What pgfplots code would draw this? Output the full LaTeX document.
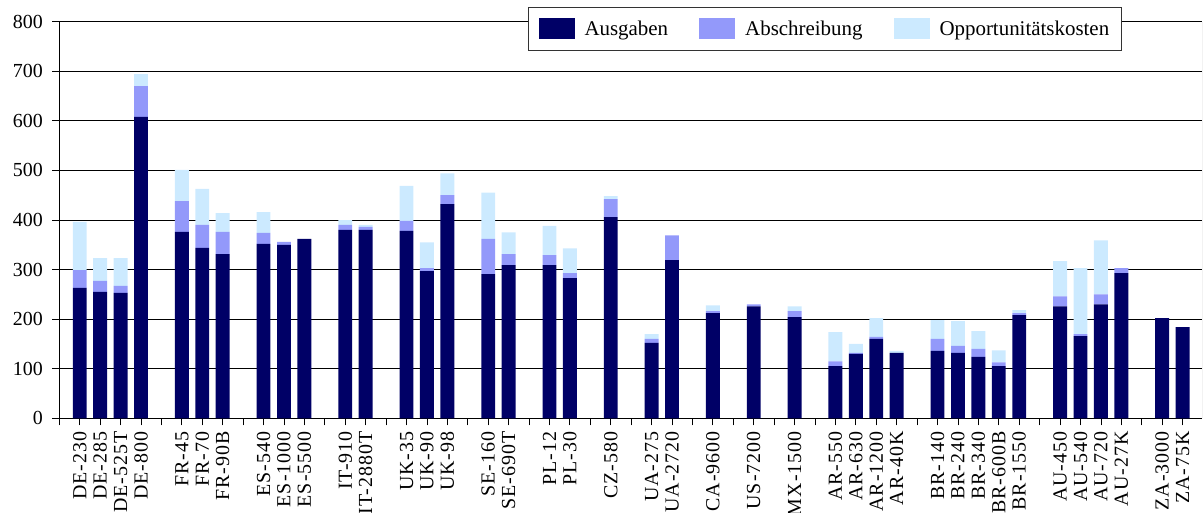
\documentclass[border=0pt]{standalone}
\usepackage{fontspec}
\setmainfont{Liberation Serif}
\newfontfamily\xlab[LetterSpace=5]{Liberation Serif}
\usepackage{pgfplots}
\usepackage{pgfplotstable}
\pgfplotsset{compat=1.18}
\definecolor{ausg}{RGB}{0,0,102}
\definecolor{absch}{RGB}{147,153,250}
\definecolor{oppk}{RGB}{204,234,255}

\pgfplotstableread{
x  a   b   c
1  263 36  97
2  255 22  46
3  253 14  56
4  608 62  24
6  376 62  63
7  344 46  73
8  331 45  38
10 352 22  42
11 350 6   0
12 362 0   0
14 380 10  10
15 380 6   4
17 378 20  71
18 297 6   52
19 432 18  44
21 291 71  93
22 309 22  44
24 309 20  59
25 283 10  50
27 406 36  6
29 152 8   10
30 319 50  0
32 212 4   12
34 226 4   0
36 204 12  10
38 105 10  59
39 130 2   18
40 160 4   38
41 132 0   4
43 136 24  38
44 132 14  50
45 124 16  36
46 105 8   24
47 208 4   6
49 226 20  71
50 166 4   133
51 230 20  109
52 293 10  0
54 202 0   0
55 184 0   0
}\data

\begin{document}
\begin{tikzpicture}
\begin{axis}[
  at={(0,0)}, anchor=south west,
  scale only axis,
  width=1142.7bp, height=396.6bp,
  xmin=0, xmax=55.95, ymin=0, ymax=800,
  ybar stacked, bar width=0.68,
  axis lines*=left,
  axis line style={line width=1.2bp, -},
  tick align=outside,
  major tick length=7bp,
  tick style={black, line width=0.8bp},
  ytick={0,100,...,800},
  ymajorgrids,
  grid style={black, line width=0.8bp},
  yticklabel style={font=\fontsize{20}{24}\selectfont, /pgf/number format/assume math mode=true, xshift=-6bp},
  xtick={0,...,55},
  xticklabels={{},DE-230,DE-285,DE-525T,DE-800,{},FR-45,FR-70,FR-90B,{},ES-540,ES-1000,ES-5500,{},IT-910,IT-2880T,{},UK-35,UK-90,UK-98,{},SE-160,SE-690T,{},PL-12,PL-30,{},CZ-580,{},UA-275,UA-2720,{},CA-9600,{},US-7200,{},MX-1500,{},AR-550,AR-630,AR-1200,AR-40K,{},BR-140,BR-240,BR-340,BR-600B,BR-1550,{},AU-450,AU-540,AU-720,AU-27K,{},ZA-3000,ZA-75K},
  xticklabel style={font=\xlab\fontsize{20}{20}\selectfont, rotate=90, anchor=east, inner xsep=6bp, inner ysep=2bp},
  legend columns=3,
  legend style={at={(axis description cs:0.4102,1.0378)}, anchor=north west,
    draw=black!80, line width=1bp, fill=white, font=\fontsize{21}{24}\selectfont,
    inner xsep=10bp, inner ysep=11bp,
    /tikz/every odd column/.append style={column sep=8bp},
    /tikz/every even column/.append style={column sep=29bp}},
  legend image code/.code={\path[#1,draw=none] (0bp,-10.5bp) rectangle (36bp,10.5bp);},
]
\addplot[fill=ausg, draw=none] table[x=x, y=a] {\data};
\addplot[fill=absch, draw=none] table[x=x, y=b] {\data};
\addplot[fill=oppk, draw=none] table[x=x, y=c] {\data};
\legend{Ausgaben, Abschreibung, Opportunitätskosten\hspace{13bp}}
\draw[black!40, line width=1bp] (rel axis cs:1,0) -- (rel axis cs:1,1);
\end{axis}
\pgfresetboundingbox
\path[use as bounding box] (-59.3bp,-94.7bp) rectangle (1143.7bp,418.3bp);
\end{tikzpicture}
\end{document}
